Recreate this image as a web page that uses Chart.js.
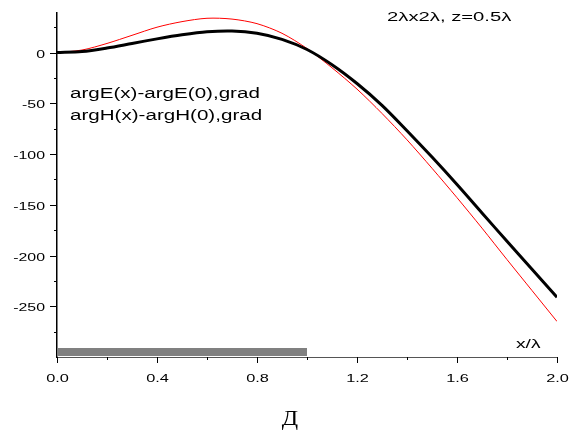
<!DOCTYPE html>
<html>
<head>
<meta charset="utf-8">
<script src="https://cdn.jsdelivr.net/npm/chart.js@4.4.1/dist/chart.umd.min.js"></script>
<style>
  html, body { margin: 0; padding: 0; background: #fff; }
  #wrap { width: 570px; height: 430px; position: relative; }
</style>
</head>
<body>
<div id="wrap"><canvas id="myChart" width="570" height="430"></canvas></div>
<script>
// x/lambda positions
const xValues = [0, 0.1, 0.2, 0.3, 0.4, 0.5, 0.6, 0.7, 0.8, 0.9, 1.0,
  1.1, 1.2, 1.3, 1.4, 1.5, 1.6, 1.7, 1.8, 1.9, 2.0];
// phase, grad (black thick curve)
const argE = [0, 1, 4.5, 9, 13.5, 17.5, 20.5, 21.3, 19, 13, 3,
  -12, -30.5, -52, -77, -103, -130, -158, -186, -213.5, -241];
// phase, grad (red thin curve)
const argH = [0, 2.5, 9, 17, 25, 30.5, 33.8, 33, 28.5, 19, 4,
  -15, -36, -60, -86, -114, -143, -173, -204, -234.5, -265];
// grey strip along the bottom (0..1)
const stripX = [0, 1.0];
const stripLevel = -295;

const xTicks = [0, 0.2, 0.4, 0.6, 0.8, 1.0, 1.2, 1.4, 1.6, 1.8, 2.0];
const xTickLabels = ['0.0', '', '0.4', '', '0.8', '', '1.2', '', '1.6', '', '2.0'];
const yTicks = [25, 0, -25, -50, -75, -100, -125, -150, -175, -200, -225, -250, -275];
const yTickLabels = ['', '0', '', '-50', '', '-100', '', '-150', '', '-200', '', '-250', ''];

const toPoints = (xs, ys) => xs.map((x, i) => ({ x: x, y: ys[i] }));

// text drawn a bit wider than the font, like the original picture
function wideText(ctx, text, x, y, font, align, sx) {
  ctx.save();
  ctx.font = font;
  const w = ctx.measureText(text).width * sx;
  const left = align === 'center' ? x - w / 2 : align === 'right' ? x - w : x;
  ctx.translate(left, y);
  ctx.scale(sx, 1);
  ctx.textAlign = 'left';
  ctx.textBaseline = 'alphabetic';
  ctx.fillStyle = '#000';
  ctx.fillText(text, 0, 0);
  ctx.restore();
}

const axisDecor = {
  id: 'axisDecor',
  afterDraw(chart) {
    const ctx = chart.ctx;
    const xs = chart.scales.x;
    const ys = chart.scales.y;
    const area = chart.chartArea;
    const sans = '"Liberation Sans", Arial, sans-serif';

    ctx.save();
    ctx.strokeStyle = '#000';
    ctx.lineWidth = 1;
    xTicks.forEach((v, i) => {
      const px = Math.round(xs.getPixelForValue(v)) + 0.5;
      const len = xTickLabels[i] ? 6 : 3;
      ctx.beginPath();
      ctx.moveTo(px, area.bottom);
      ctx.lineTo(px, area.bottom + len);
      ctx.stroke();
      if (xTickLabels[i]) {
        wideText(ctx, xTickLabels[i], px, area.bottom + 25, '11.5px ' + sans, 'center', 1.42);
      }
    });
    yTicks.forEach((v, i) => {
      const py = Math.round(ys.getPixelForValue(v)) + 0.5;
      const len = yTickLabels[i] ? 7 : 3;
      ctx.beginPath();
      ctx.moveTo(area.left - len, py);
      ctx.lineTo(area.left, py);
      ctx.stroke();
      if (yTickLabels[i]) {
        wideText(ctx, yTickLabels[i], area.left - 12, py + 4, '11.5px ' + sans, 'right', 1.38);
      }
    });
    ctx.restore();

    wideText(ctx, 'argE(x)-argE(0),grad', 70, 98, '14px ' + sans, 'left', 1.47);
    wideText(ctx, 'argH(x)-argH(0),grad', 70, 120, '14px ' + sans, 'left', 1.47);
    wideText(ctx, '2λx2λ, z=0.5λ', 387, 21, '12.5px ' + sans, 'left', 1.62);
    wideText(ctx, 'x/λ', 516, 348, '12px ' + sans, 'left', 1.6);
    wideText(ctx, 'Д', 290, 425, '20px "Liberation Serif", "DejaVu Serif", serif', 'center', 1.2);
  }
};

new Chart(document.getElementById('myChart'), {
  type: 'line',
  data: {
    datasets: [
      {
        label: 'argE',
        data: toPoints(xValues, argE),
        borderColor: '#000',
        borderWidth: 3,
        pointRadius: 0,
        tension: 0.3,
        fill: false
      },
      {
        label: 'argH',
        data: toPoints(xValues, argH),
        borderColor: '#ff0000',
        borderWidth: 1,
        pointRadius: 0,
        tension: 0.3,
        fill: false
      },
      {
        label: 'strip',
        data: stripX.map(x => ({ x: x, y: stripLevel })),
        borderColor: '#808080',
        borderWidth: 8,
        borderCapStyle: 'butt',
        pointRadius: 0,
        fill: false
      }
    ]
  },
  options: {
    responsive: false,
    animation: false,
    layout: { padding: { top: 13, right: 13, left: 0, bottom: 0 } },
    plugins: {
      legend: { display: false },
      tooltip: { enabled: false }
    },
    scales: {
      x: {
        type: 'linear',
        min: 0,
        max: 2,
        grid: { display: false },
        ticks: { display: false },
        border: { display: true, color: '#555', width: 1 },
        afterFit: (scale) => { scale.height = 73; }
      },
      y: {
        type: 'linear',
        min: -300,
        max: 39,
        grid: { display: false },
        ticks: { display: false },
        border: { display: true, color: '#000', width: 1.5 },
        afterFit: (scale) => { scale.width = 57; }
      }
    }
  },
  plugins: [axisDecor]
});
</script>
</body>
</html>
